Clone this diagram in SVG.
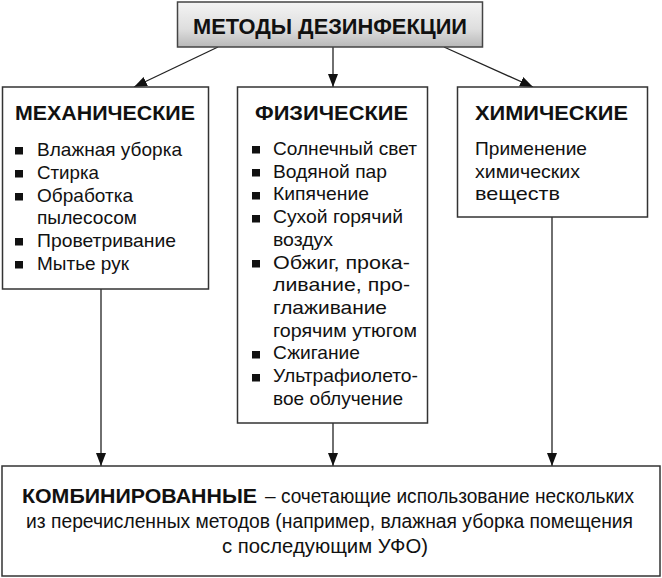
<svg xmlns="http://www.w3.org/2000/svg" width="662" height="578" viewBox="0 0 662 578">
<style>
.box{fill:#fff;stroke:#333;stroke-width:1.5}
.t{font-family:"Liberation Sans",Arial,sans-serif;fill:#111}
.h{font-size:19.5px;font-weight:bold}
.i{font-size:17.8px}
.b{font-size:20px}
.c{stroke:#222;stroke-width:1.3;fill:none}
.bl{fill:#111}
</style>
<defs>
<linearGradient id="g" x1="0" y1="0" x2="0" y2="1">
<stop offset="0" stop-color="#f4f4f4"/>
<stop offset="0.6" stop-color="#dedede"/>
<stop offset="1" stop-color="#b8b8b8"/>
</linearGradient>
<marker id="a" markerUnits="userSpaceOnUse" markerWidth="14" markerHeight="11" refX="13" refY="5" orient="auto">
<path d="M0,0 L13,5 L0,10 z" fill="#111"/>
</marker>
</defs>

<g id="connectors">
<line class="c" x1="218" y1="47" x2="134" y2="87" marker-end="url(#a)"/>
<line class="c" x1="333" y1="47" x2="333" y2="87" marker-end="url(#a)"/>
<line class="c" x1="444" y1="47" x2="533" y2="87" marker-end="url(#a)"/>
<line class="c" x1="101" y1="289" x2="101" y2="466" marker-end="url(#a)"/>
<line class="c" x1="333" y1="423" x2="333" y2="466" marker-end="url(#a)"/>
<line class="c" x1="552" y1="217" x2="552" y2="466" marker-end="url(#a)"/>
</g>

<g id="title">
<rect x="177.5" y="2" width="305" height="45" fill="url(#g)" stroke="#444" stroke-width="1.5"/>
<text class="t" x="193" y="33.5" font-size="21.5px" font-weight="bold" textLength="274" lengthAdjust="spacingAndGlyphs">МЕТОДЫ ДЕЗИНФЕКЦИИ</text>
</g>

<g id="mechanical">
<rect class="box" x="2.5" y="87" width="206" height="202"/>
<text class="t h" x="15" y="120" textLength="180" lengthAdjust="spacingAndGlyphs">МЕХАНИЧЕСКИЕ</text>
<rect class="bl" x="15" y="147" width="8" height="7.5"/>
<rect class="bl" x="15" y="170" width="8" height="7.5"/>
<rect class="bl" x="15" y="193" width="8" height="7.5"/>
<rect class="bl" x="15" y="238" width="8" height="7.5"/>
<rect class="bl" x="15" y="261" width="8" height="7.5"/>
<text class="t i" x="37" y="156" textLength="145" lengthAdjust="spacingAndGlyphs">Влажная уборка</text>
<text class="t i" x="37" y="179" textLength="62" lengthAdjust="spacingAndGlyphs">Стирка</text>
<text class="t i" x="37" y="202" textLength="96" lengthAdjust="spacingAndGlyphs">Обработка</text>
<text class="t i" x="37" y="224" textLength="100" lengthAdjust="spacingAndGlyphs">пылесосом</text>
<text class="t i" x="37" y="247" textLength="139" lengthAdjust="spacingAndGlyphs">Проветривание</text>
<text class="t i" x="37" y="270" textLength="92" lengthAdjust="spacingAndGlyphs">Мытье рук</text>
</g>

<g id="physical">
<rect class="box" x="237.5" y="87" width="190" height="336"/>
<text class="t h" x="255" y="120" textLength="153" lengthAdjust="spacingAndGlyphs">ФИЗИЧЕСКИЕ</text>
<rect class="bl" x="252" y="146" width="8" height="7.5"/>
<rect class="bl" x="252" y="169" width="8" height="7.5"/>
<rect class="bl" x="252" y="192" width="8" height="7.5"/>
<rect class="bl" x="252" y="215" width="8" height="7.5"/>
<rect class="bl" x="252" y="260" width="8" height="7.5"/>
<rect class="bl" x="252" y="351" width="8" height="7.5"/>
<rect class="bl" x="252" y="374" width="8" height="7.5"/>
<text class="t i" x="273" y="155" textLength="144" lengthAdjust="spacingAndGlyphs">Солнечный свет</text>
<text class="t i" x="273" y="178" textLength="114" lengthAdjust="spacingAndGlyphs">Водяной пар</text>
<text class="t i" x="273" y="200" textLength="96" lengthAdjust="spacingAndGlyphs">Кипячение</text>
<text class="t i" x="273" y="223" textLength="130" lengthAdjust="spacingAndGlyphs">Сухой горячий</text>
<text class="t i" x="273" y="246" textLength="60" lengthAdjust="spacingAndGlyphs">воздух</text>
<text class="t i" x="273" y="269" textLength="137" lengthAdjust="spacingAndGlyphs">Обжиг, прока-</text>
<text class="t i" x="273" y="291" textLength="137" lengthAdjust="spacingAndGlyphs">ливание, про-</text>
<text class="t i" x="273" y="314" textLength="114" lengthAdjust="spacingAndGlyphs">глаживание</text>
<text class="t i" x="273" y="337" textLength="144" lengthAdjust="spacingAndGlyphs">горячим утюгом</text>
<text class="t i" x="273" y="359" textLength="87" lengthAdjust="spacingAndGlyphs">Сжигание</text>
<text class="t i" x="273" y="382" textLength="145" lengthAdjust="spacingAndGlyphs">Ультрафиолето-</text>
<text class="t i" x="273" y="405" textLength="130" lengthAdjust="spacingAndGlyphs">вое облучение</text>
</g>

<g id="chemical">
<rect class="box" x="457.5" y="87" width="190" height="130"/>
<text class="t h" x="475" y="120" textLength="153" lengthAdjust="spacingAndGlyphs">ХИМИЧЕСКИЕ</text>
<text class="t i" x="475" y="155" textLength="112" lengthAdjust="spacingAndGlyphs">Применение</text>
<text class="t i" x="475" y="178" textLength="105" lengthAdjust="spacingAndGlyphs">химических</text>
<text class="t i" x="475" y="200" textLength="85" lengthAdjust="spacingAndGlyphs">веществ</text>
</g>

<g id="combined">
<rect class="box" x="2" y="466" width="658" height="110"/>
<text class="t b" x="22" y="503" font-weight="bold" textLength="235" lengthAdjust="spacingAndGlyphs">КОМБИНИРОВАННЫЕ</text>
<text class="t b" x="265" y="503" textLength="369" lengthAdjust="spacingAndGlyphs">– сочетающие использование нескольких</text>
<text class="t b" x="26" y="528" textLength="607" lengthAdjust="spacingAndGlyphs">из перечисленных методов (например, влажная уборка помещения</text>
<text class="t b" x="222" y="553" textLength="206" lengthAdjust="spacingAndGlyphs">с последующим УФО)</text>
</g>
</svg>
